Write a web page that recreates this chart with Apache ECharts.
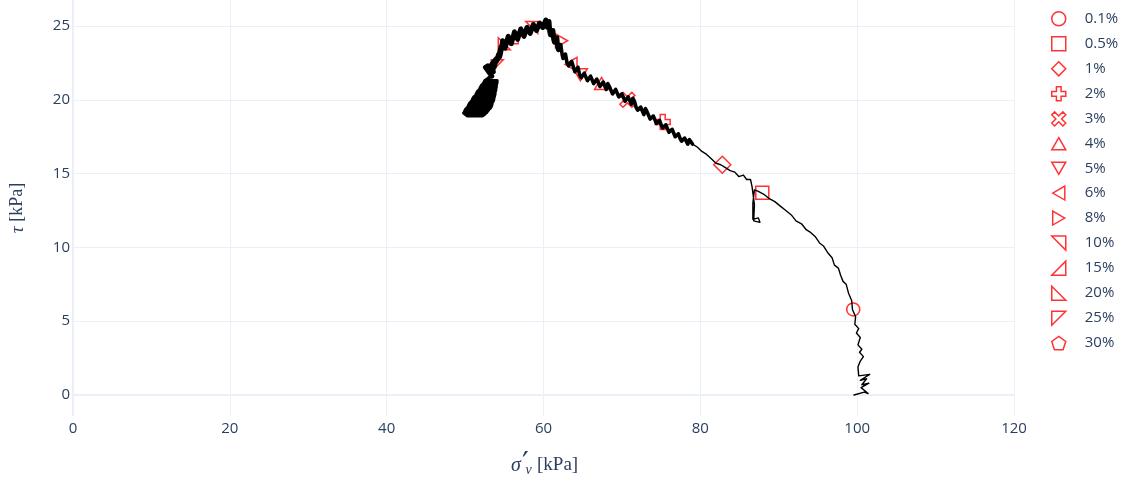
<!DOCTYPE html>
<html><head><meta charset="utf-8">
<script src="https://cdn.jsdelivr.net/npm/echarts@6/dist/echarts.min.js"></script>
<style>html,body{margin:0;padding:0;background:#fff}#c{width:1128px;height:481px}</style>
</head><body><div id="c"></div>
<script>
// ---- data ----
const strainLabels = ['0.1%','0.5%','1%','2%','3%','4%','5%','6%','8%','10%','15%','20%','25%','30%'];
const markerX = [99.5, 87.9, 82.8, 75.2, 70.7, 67.4, 64.7, 63.5, 62.3, 58.5, 56.0, 55.0, 54.1, 51.8];
const markerY = [5.8, 13.7, 15.6, 18.5, 20.0, 21.1, 21.7, 22.4, 24.0, 24.9, 24.2, 23.8, 22.3, 20.0];
const xTicks = [0, 20, 40, 60, 80, 100, 120];
const yTicks = [0, 5, 10, 15, 20, 25];

// sparse part of the stress path (start at bottom right)
const pathSparse = [
[99.6,0.0],[100.9,0.2],[101.4,0.1],[100.5,0.5],[101.5,0.8],[100.6,0.7],[101.2,1.1],[100.4,1.0],[101.6,1.4],[100.2,1.3],
[100.1,1.9],[100.4,2.3],[100.8,2.6],[100.3,2.9],[100.6,3.1],[100.1,3.4],[100.4,3.9],[99.9,4.2],[100.2,4.5],[99.7,4.8],
[99.8,5.3],[99.4,5.8],[99.3,6.4],[98.9,6.9],[98.6,7.5],[98.2,7.7],[97.9,8.1],[97.6,8.6],[97.1,8.8],[96.8,9.3],
[96.3,9.6],[95.7,10.1],[95.2,10.3],[94.7,10.7],[94.1,11.0],[93.5,11.2],[92.9,11.6],[92.2,11.8],[91.6,12.2],[90.9,12.5],
[90.2,12.8],[89.5,13.1],[88.8,13.3],[88.1,13.6],[87.4,13.8],[86.9,13.9],[86.7,13.0],[86.7,11.9],[87.4,12.0],[87.6,11.7],
[86.8,11.8],[86.9,12.9],[86.6,14.1],[86.4,14.6],[85.9,14.6],[85.5,14.9],[84.9,14.8],[84.4,15.1],[83.8,15.2],[83.2,15.4],
[82.6,15.6],[82.0,15.7],[81.4,16.0],[80.8,16.3],[80.2,16.5],[79.6,16.8],[79.0,17.0]
];
// dense band from ~79 kPa up to the peak
const pathBand = [
[79.0,17.0],[78.6,17.3],[78.4,17.0],[78.2,17.0],[78.0,17.4],[77.8,17.5],[77.6,17.2],[77.4,17.4],[77.2,17.7],[77.0,17.8],[76.8,17.5],[76.6,17.6],[76.4,18.0],[76.2,18.1],[76.0,17.8],[75.8,17.9],[75.6,18.3],[75.4,18.4],
[75.2,18.1],[75.0,18.3],[74.8,18.6],[74.6,18.7],[74.4,18.4],[74.2,18.5],[74.0,18.9],[73.8,19.0],[73.6,18.7],[73.4,18.8],[73.2,19.2],[73.0,19.4],[72.8,19.0],[72.6,19.1],[72.4,19.5],[72.2,19.6],[72.0,19.3],[71.8,19.5],[71.6,19.9],[71.4,20.1],
[71.2,19.7],[71.0,19.8],[70.8,20.2],[70.6,20.2],[70.4,19.9],[70.2,20.0],[70.0,20.4],[69.8,20.5],[69.6,20.2],[69.4,20.3],[69.2,20.7],[69.0,20.8],[68.8,20.4],[68.6,20.5],[68.4,20.9],[68.2,21.1],[68.0,20.7],[67.8,20.8],[67.6,21.2],[67.4,21.2],
[67.2,20.9],[67.0,21.0],[66.8,21.4],[66.6,21.4],[66.4,21.1],[66.2,21.2],[66.0,21.6],[65.8,21.6],[65.6,21.3],[65.4,21.3],[65.2,21.8],[65.0,21.8],[64.8,21.5],[64.6,21.7],[64.4,22.2],[64.2,22.2],[64.0,21.9],[63.8,22.0],[63.6,22.6],[63.4,22.6],
[63.2,22.3],[63.0,22.5],[62.8,23.1],[62.7,23.1],[62.5,22.8],[62.4,23.0],[62.2,23.7],[62.1,23.7]
];
// peak and the left branch down to the final blob
const pathPeak = [
[62.1,23.7],[61.9,23.4],[61.8,23.6],[61.7,24.2],[61.6,24.2],[61.4,23.9],[61.3,24.1],[61.2,24.7],[61.1,24.7],[60.9,24.4],[60.8,24.6],[60.7,25.3],[60.7,25.3],
[60.5,24.9],[60.4,25.1],[60.3,25.4],[60.1,25.3],[59.9,24.9],[59.7,24.8],[59.5,25.2],[59.3,25.1],[59.1,24.7],[58.9,24.6],[58.7,25.1],[58.5,25.0],[58.3,24.5],[58.1,24.4],[57.9,24.9],[57.7,24.9],[57.5,24.3],[57.3,24.3],[57.1,24.8],[56.9,24.7],
[56.7,24.1],[56.5,24.0],[56.3,24.6],[56.1,24.5],[55.9,23.8],[55.7,23.7],[55.5,24.3],[55.3,24.3],[55.1,23.5],[55.0,23.4],[54.8,24.0],[54.7,24.0],[54.5,23.1],[54.4,22.9],[54.6,23.6],[54.2,22.8],[54.0,22.6],[54.3,23.1],[53.8,22.4],[53.7,22.2],
[54.0,22.8],[53.4,22.4],[53.2,22.4],[53.6,21.9],[52.9,22.3],[52.6,22.2],[53.4,21.6]
];
// final blob where the path ends
const pathBlob = [
[53.4,21.6],[52.5,21.3],[54.1,21.3],[54.05,21.1],[52.3,21.1],[52.0,20.9],[54.0,20.9],[53.9,20.7],[51.8,20.7],[51.5,20.5],[53.85,20.5],
[53.8,20.3],[51.3,20.3],[51.0,20.1],[53.7,20.1],[53.6,19.9],[50.8,19.9],[50.5,19.7],[53.45,19.7],[53.3,19.5],[50.3,19.5],
[50.0,19.3],[53.0,19.3],[52.7,19.1],[49.8,19.1],[50.3,18.9],[52.2,18.9],
[52.5,19.0],[49.9,19.2],[50.1,19.4],[53.2,19.4],[53.4,19.6],[50.4,19.6],[50.6,19.8],[53.5,19.8],[53.65,20.0],[50.9,20.0],
[51.1,20.2],[53.75,20.2],[53.8,20.4],[51.4,20.4],[51.6,20.6],[53.9,20.6],[53.95,20.8],[51.9,20.8],[52.1,21.0],[54.0,21.0],
[54.1,21.2],[52.4,21.2],[53.0,21.5]
];

// ---- styles ----
const symbols = [
  'circle', 'rect', 'diamond',
  'path://M-1,-3H1V-1H3V1H1V3H-1V1H-3V-1H-1Z',
  'path://M0,-1.4L2,-3.4L3.4,-2L1.4,0L3.4,2L2,3.4L0,1.4L-2,3.4L-3.4,2L-1.4,0L-3.4,-2L-2,-3.4Z',
  'path://M0,-1.15L1,0.58L-1,0.58Z',
  'path://M0,1.15L1,-0.58L-1,-0.58Z',
  'path://M-1.15,0L0.58,-1L0.58,1Z',
  'path://M1.15,0L-0.58,-1L-0.58,1Z',
  'path://M-1,-1L1,-1L1,1Z',
  'path://M1,-1L1,1L-1,1Z',
  'path://M-1,-1L-1,1L1,1Z',
  'path://M-1,-1L1,-1L-1,1Z',
  'path://M0,-1L0.951,-0.309L0.588,0.809L-0.588,0.809L-0.951,-0.309Z'
];
const sizes = [13, 13, 17, 15, 15, 14, 14, 14, 14, 12, 12, 12, 12, 13];
const txt = '#2a3f5f';
const gridCol = '#ebf0f8';
const serif = 'Liberation Serif';

const series = [];
// grid lines
series.push({
  type: 'line', data: [], silent: true, z: 0,
  markLine: {
    silent: true, symbol: ['none', 'none'], z: 0, animation: false,
    label: { show: false },
    lineStyle: { color: gridCol, width: 1, type: 'solid' },
    emphasis: { disabled: true },
    data: yTicks.map(v => ({ yAxis: v, lineStyle: { color: gridCol, type: 'solid', width: v === 0 ? 2 : 1 } }))
      .concat(xTicks.map(v => ({ xAxis: v, lineStyle: { color: gridCol, type: 'solid', width: v === 0 ? 2 : 1 } })))
  }
});
strainLabels.forEach((lab, i) => {
  series.push({
    type: 'scatter', name: lab, z: 2,
    data: [[markerX[i], markerY[i]]],
    symbol: symbols[i], symbolSize: sizes[i], symbolKeepAspect: true,
    itemStyle: { color: 'rgba(255,255,255,0)', borderColor: '#ff0000', borderWidth: 1.5 },
    emphasis: { disabled: true }
  });
});
[[pathSparse, 1.4], [pathBand, 3.6], [pathPeak, 5], [pathBlob, 3]].forEach(([d, w], k) => {
  series.push({
    type: 'line', name: 'path' + k, data: d, showSymbol: false, z: 3, silent: true,
    lineStyle: { color: '#000', width: w, join: 'round', cap: 'round' }
  });
});

const chart = echarts.init(document.getElementById('c'), null, { renderer: 'canvas' });
chart.setOption({
  animation: false,
  backgroundColor: '#fff',
  grid: { left: 73, right: 114, top: 0, bottom: 65, containLabel: false, outerBoundsMode: 'none' },
  xAxis: {
    type: 'value', min: 0, max: 120, interval: 20,
    axisLine: { show: false }, axisTick: { show: false }, splitLine: { show: false },
    axisLabel: { color: txt, fontSize: 15, fontFamily: 'Open Sans', margin: 5 }
  },
  yAxis: {
    type: 'value', min: -1.42, max: 26.76,
    axisLine: { show: false }, axisTick: { show: false }, splitLine: { show: false },
    axisLabel: { color: txt, fontSize: 15, fontFamily: 'Open Sans', margin: 3, customValues: yTicks },
    name: '{t|τ}{u| [kPa]}', nameLocation: 'middle', nameGap: 46, nameRotate: 90,
    nameTextStyle: {
      color: txt,
      rich: {
        t: { fontFamily: serif, fontStyle: 'italic', fontSize: 19, color: txt },
        u: { fontFamily: serif, fontSize: 18, color: txt }
      }
    }
  },
  // x-axis title σ′_v [kPa], built from pieces so the prime and subscript stack
  graphic: [{
    type: 'group', x: 511, y: 456,
    children: [
      { type: 'text', x: 0, y: 10, style: { text: 'σ', font: 'italic 20px "' + serif + '"', fill: txt, verticalAlign: 'middle' } },
      { type: 'text', x: 11, y: 9, style: { text: '′', font: '30px "DejaVu Sans"', fill: txt, verticalAlign: 'middle' } },
      { type: 'text', x: 14.5, y: 14.5, style: { text: 'v', font: 'italic 14px "' + serif + '"', fill: txt, verticalAlign: 'middle' } },
      { type: 'text', x: 26, y: 9, style: { text: '[kPa]', font: '19px "' + serif + '"', fill: txt, verticalAlign: 'middle' } }
    ]
  }],
  legend: {
    data: strainLabels, orient: 'vertical', left: 1046, top: 6,
    itemWidth: 14, itemHeight: 14, itemGap: 9.54, selectedMode: false,
    itemStyle: { color: 'rgba(255,255,255,0)', borderColor: '#ff0000', borderWidth: 1.5 },
    formatter: n => '{a|' + n + '}',
    textStyle: { rich: { a: { fontFamily: 'Open Sans', fontSize: 15, color: txt, lineHeight: 14, padding: [0, 0, 0, 14] } } }
  },
  series: series
});
</script>
</body></html>
